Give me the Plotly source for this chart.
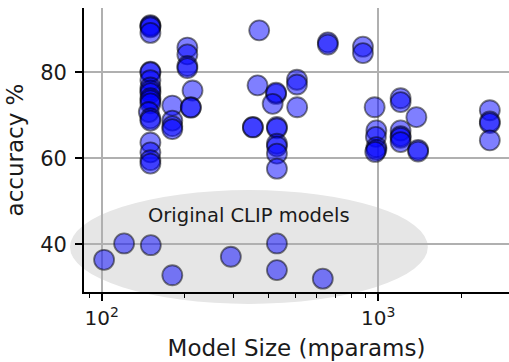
import plotly.graph_objects as go

# Trained models: size (M params) and accuracy (%)
trained_size = [150, 150, 150, 150,
                150, 150, 150, 150, 150, 150, 150, 150, 150, 148, 150, 150, 150, 150, 150, 150,
                180, 180, 180, 180,
                204, 204, 204, 204, 213, 210, 210,
                371, 366, 352, 352,
                427, 427, 415, 430, 430, 430, 430, 430, 430,
                508, 508, 509,
                657, 657,
                880, 880,
                970, 984, 980, 984, 984, 975,
                1204, 1204, 1204, 1204, 1204, 1204,
                1373, 1393, 1393,
                2530, 2530, 2530, 2530]
trained_acc = [91.0, 90.8, 90.5, 89.2,
               80.2, 80.0, 78.2, 76.5, 75.8, 75.2, 74.0, 73.5, 72.8, 70.8, 69.3, 68.8, 63.7, 61.4, 59.6, 58.8,
               72.3, 68.8, 67.5, 66.8,
               85.8, 84.2, 81.5, 81.0, 75.8, 71.9, 71.8,
               89.8, 77.0, 67.3, 67.2,
               75.0, 75.3, 72.7, 67.3, 67.0, 63.4, 62.8, 61.1, 57.6,
               78.3, 77.2, 71.9,
               87.0, 86.5,
               86.0, 84.5,
               71.9, 66.5, 65.0, 62.6, 62.0, 61.5,
               74.0, 73.1, 66.5, 65.2, 64.8, 63.8,
               69.6, 62.0, 61.6,
               71.2, 68.6, 68.2, 64.2]

# Original CLIP models
clip_size = [102, 120.5, 150.5, 180, 293, 430, 430, 630]
clip_acc = [36.4, 40.2, 39.8, 32.8, 37.1, 40.2, 34.0, 32.0]

y_ticks = [40, 60, 80]
x_ticks = [100, 1000]
x_tick_text = ["10<sup>2</sup>", "10<sup>3</sup>"]
x_minor = [90, 200, 300, 400, 500, 600, 700, 800, 900, 2000, 3000]

FONT = "DejaVu Sans"
marker = dict(size=20, color="rgba(0,0,255,0.5)",
              line=dict(color="rgba(0,0,0,0.5)", width=1.8))

fig = go.Figure()
fig.add_trace(go.Scatter(x=clip_size, y=clip_acc, mode="markers", marker=marker,
                         showlegend=False, cliponaxis=False))
fig.add_trace(go.Scatter(x=trained_size, y=trained_acc, mode="markers", marker=marker,
                         showlegend=False, cliponaxis=False))

# Grey ellipse behind the original CLIP models (paper coords, not clipped)
fig.add_shape(type="circle", xref="paper", yref="paper",
              x0=-0.033, x1=0.809, y0=-0.042, y1=0.359,
              fillcolor="#e6e6e6", line=dict(width=0), layer="below")

fig.add_annotation(x=2.5325, y=46.8, xref="x", yref="y", text="Original CLIP models",
                   showarrow=False, font=dict(family=FONT, size=19.5, color="#1a1a1a"))

fig.update_layout(
    width=509, height=362,
    margin=dict(l=84, r=0, t=8, b=70),
    paper_bgcolor="rgba(0,0,0,0)", plot_bgcolor="rgba(0,0,0,0)",
    font=dict(family=FONT, color="#1a1a1a"),
)
fig.update_xaxes(
    type="log", range=[1.936, 3.4725],
    tickvals=x_ticks, ticktext=x_tick_text,
    tickfont=dict(size=20), ticks="outside", ticklen=7, tickwidth=1.8, tickcolor="black",
    showline=True, linecolor="black", linewidth=1.8, mirror=False,
    showgrid=True, gridcolor="#b0b0b0", gridwidth=1.5, zeroline=False,
    minor=dict(tickvals=x_minor, ticks="outside", ticklen=4, tickwidth=1.2,
               tickcolor="black", showgrid=False),
    title=dict(text="Model Size (mparams)", font=dict(size=23), standoff=11),
)
fig.update_yaxes(
    range=[28.9, 95.0], tickvals=y_ticks,
    tickfont=dict(size=21), ticks="outside", ticklen=7, tickwidth=1.8, tickcolor="black",
    ticklabelstandoff=4,
    showline=True, linecolor="black", linewidth=1.8,
    showgrid=True, gridcolor="#b0b0b0", gridwidth=1.5, zeroline=False,
    title=dict(text="accuracy %", font=dict(size=23), standoff=10),
)

fig.write_html("out.html")
